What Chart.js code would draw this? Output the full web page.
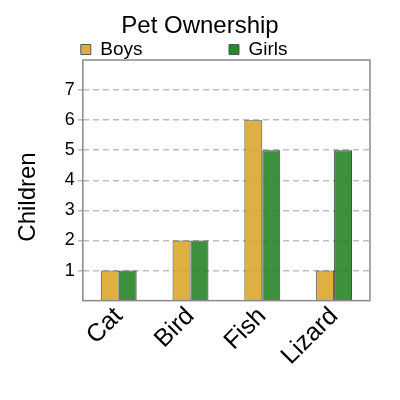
<!DOCTYPE html>
<html><head><meta charset="utf-8">
<script src="https://cdn.jsdelivr.net/npm/chart.js@4"></script>
<style>html,body{margin:0;padding:0;background:#fff}#w{width:400px;height:400px}</style>
</head><body><div id="w"><canvas id="c"></canvas></div>
<script>
const categories = ['Cat', 'Bird', 'Fish', 'Lizard'];
const boys = [1, 2, 6, 1];
const girls = [1, 2, 5, 5];
const yTicks = [1, 2, 3, 4, 5, 6, 7];
const seriesNames = ['Boys', 'Girls'];

const FONT = "'Liberation Sans', Arial, sans-serif";
const boxPlugin = {
  id: 'box',
  afterDraw(chart) {
    const a = chart.chartArea, ctx = chart.ctx;
    ctx.save();
    ctx.strokeStyle = '#8a8a8a';
    ctx.lineWidth = 1.5;
    ctx.strokeRect(a.left, a.top, a.right - a.left, a.bottom - a.top);
    ctx.restore();
  }
};
const pad = (s, n) => s + ' '.repeat(n);

new Chart(document.getElementById('c'), {
  type: 'bar',
  data: {
    labels: categories,
    datasets: [
      { label: seriesNames[0], data: boys, backgroundColor: 'rgba(218,165,40,0.88)', borderColor: 'rgba(40,30,10,0.8)', borderWidth: 1 },
      { label: seriesNames[1], data: girls, backgroundColor: 'rgba(34,130,34,0.88)', borderColor: 'rgba(5,30,5,0.8)', borderWidth: 1 }
    ]
  },
  options: {
    responsive: true,
    maintainAspectRatio: false,
    animation: false,
    layout: { padding: { left: 0, right: 0, top: 0, bottom: 28 } },
    datasets: { bar: { categoryPercentage: 0.5, barPercentage: 1 } },
    plugins: {
      title: { display: true, text: 'Pet Ownership', color: '#000', font: { family: FONT, size: 24, weight: 'normal', lineHeight: 1 }, padding: { top: 14, bottom: 0 } },
      legend: {
        display: true, align: 'center', maxHeight: 22,
        labels: {
          color: '#000', font: { family: FONT, size: 19 }, boxWidth: 10, boxHeight: 10, padding: 2,
          generateLabels(chart) {
            const cols = ['#dcb040', '#1f8f1f'];
            const spaces = [16, 6];
            return chart.data.datasets.map((d, i) => ({
              text: pad(d.label, spaces[i]), fillStyle: cols[i], strokeStyle: '#555', lineWidth: 1, datasetIndex: i, fontColor: '#000'
            }));
          }
        }
      },
      tooltip: { enabled: false }
    },
    scales: {
      x: {
        grid: { display: false, drawTicks: false },
        border: { display: false },
        ticks: { color: '#000', font: { family: FONT, size: 25 }, minRotation: 45, maxRotation: 45, padding: 1 }
      },
      y: {
        min: 0, max: 8,
        afterBuildTicks(scale) { scale.ticks = yTicks.map(v => ({ value: v })); },
        grid: { color: '#bdbdbd', lineWidth: 1.6, tickLength: 5, tickColor: '#bdbdbd', tickBorderDash: [6, 4] },
        border: { display: false, dash: [6, 4] },
        ticks: { color: '#000', font: { family: FONT, size: 18 }, padding: 3 },
        title: { display: true, text: 'Children' + ' '.repeat(5), color: '#000', font: { family: FONT, size: 24 }, padding: { top: 14, bottom: 19 } }
      },
      yRight: {
        position: 'right', min: 0, max: 8,
        grid: { display: false, drawTicks: false },
        border: { display: false },
        ticks: { display: false },
        afterFit(scale) { scale.width = 30; }
      }
    }
  },
  plugins: [boxPlugin]
});
</script></body></html>
